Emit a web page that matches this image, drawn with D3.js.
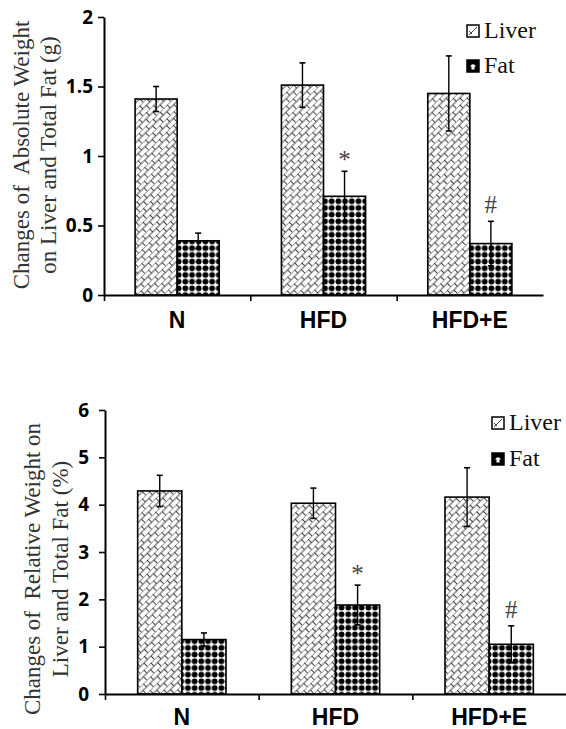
<!DOCTYPE html>
<html>
<head>
<meta charset="utf-8">
<script src="https://cdn.jsdelivr.net/npm/d3@7"></script>
<style>
  body { margin: 0; background: #fff; }
  svg { display: block; }
</style>
</head>
<body>
<div id="chart"></div>
<script>
// categories and series
const groups = ["N", "HFD", "HFD+E"];
const seriesNames = ["Liver", "Fat"];

// absolute weight (g)
const absLiver = [1.41, 1.51, 1.45];
const absLiverErr = [0.09, 0.16, 0.27];
const absFat = [0.39, 0.71, 0.37];
const absFatErr = [0.055, 0.18, 0.16];
const absTicks = [0, 0.5, 1, 1.5, 2];

// relative weight (%)
const relLiver = [4.29, 4.03, 4.16];
const relLiverErr = [0.33, 0.32, 0.62];
const relFat = [1.15, 1.88, 1.05];
const relFatErr = [0.14, 0.42, 0.39];
const relTicks = [0, 1, 2, 3, 4, 5, 6];

// significance marks on the fat bars
const fatMarks = ["", "*", "#"];

const W = 566, H = 729;
const svg = d3.select("#chart").append("svg")
    .attr("width", W)
    .attr("height", H);

// fill patterns
const defs = svg.append("defs");

// diagonal brick for liver
const brick = defs.append("pattern")
    .attr("id", "brick")
    .attr("patternUnits", "userSpaceOnUse")
    .attr("width", 10)
    .attr("height", 9.4)
    .attr("patternTransform", "rotate(-45)");
brick.append("rect").attr("width", 10).attr("height", 9.4).attr("fill", "#fff");
brick.append("path")
    .attr("d", "M0,0H10M0,4.7H10M0.5,0V4.7M5.5,4.7V9.4")
    .attr("stroke", "#333")
    .attr("stroke-width", 0.9)
    .attr("fill", "none");

// dot grid for fat
const dots = defs.append("pattern")
    .attr("id", "dots")
    .attr("patternUnits", "userSpaceOnUse")
    .attr("width", 6.7)
    .attr("height", 6.7);
dots.append("rect").attr("width", 6.7).attr("height", 6.7).attr("fill", "#fff");
dots.append("circle").attr("cx", 3.35).attr("cy", 3.35).attr("r", 2.9).attr("fill", "#000");

function drawChart(cfg) {
    const g = svg.append("g")
        .attr("transform", "translate(" + cfg.left + "," + cfg.top + ")");
    const w = cfg.width, h = cfg.height;

    const y = d3.scaleLinear().domain([0, d3.max(cfg.ticks)]).range([h, 0]);
    const x0 = d3.scaleBand().domain(groups).range([0, w])
        .paddingInner(0.425).paddingOuter(0.2125);
    const x1 = d3.scaleBand().domain(seriesNames).range([0, x0.bandwidth()]);

    const rows = groups.map((grp, i) => ({
        grp: grp,
        vals: [
            {name: "Liver", v: cfg.liver[i], e: cfg.liverErr[i], mark: ""},
            {name: "Fat", v: cfg.fat[i], e: cfg.fatErr[i], mark: fatMarks[i]}
        ]
    }));

    // bars
    const grpSel = g.selectAll(".grp").data(rows).enter().append("g")
        .attr("transform", d => "translate(" + x0(d.grp) + ",0)");

    grpSel.selectAll("rect").data(d => d.vals).enter().append("rect")
        .attr("x", d => x1(d.name))
        .attr("y", d => y(d.v))
        .attr("width", x1.bandwidth())
        .attr("height", d => h - y(d.v))
        .attr("fill", d => d.name === "Liver" ? "url(#brick)" : "url(#dots)")
        .attr("stroke", "#000")
        .attr("stroke-width", 1.6);

    // error bars
    const err = grpSel.selectAll(".err").data(d => d.vals).enter().append("g");
    err.append("line")
        .attr("x1", d => x1(d.name) + x1.bandwidth() / 2)
        .attr("x2", d => x1(d.name) + x1.bandwidth() / 2)
        .attr("y1", d => y(d.v + d.e))
        .attr("y2", d => y(d.v - d.e))
        .attr("stroke", "#000").attr("stroke-width", 1.4);
    err.selectAll(".cap").data(d => [
            {d: d, v: d.v + d.e},
            {d: d, v: d.v - d.e}
        ]).enter().append("line")
        .attr("x1", c => x1(c.d.name) + x1.bandwidth() / 2 - 3)
        .attr("x2", c => x1(c.d.name) + x1.bandwidth() / 2 + 3)
        .attr("y1", c => y(c.v))
        .attr("y2", c => y(c.v))
        .attr("stroke", "#000").attr("stroke-width", 1.6);

    // significance marks
    grpSel.selectAll(".mark").data(d => d.vals.filter(v => v.mark)).enter().append("text")
        .attr("x", d => x1(d.name) + x1.bandwidth() / 2)
        .attr("y", d => y(d.v + d.e) - (d.mark === "*" ? 3 : 8))
        .attr("text-anchor", "middle")
        .style("font-family", "'Liberation Serif', 'Times New Roman', serif")
        .style("font-size", "25px")
        .style("fill", "#444")
        .text(d => d.mark);

    // y axis
    const yAxis = g.append("g")
        .call(d3.axisLeft(y).tickValues(cfg.ticks).tickSize(6).tickSizeOuter(0).tickPadding(cfg.tickPad)
            .tickFormat(d => d));
    yAxis.select(".domain").attr("stroke-width", 2);
    yAxis.selectAll(".tick line").attr("stroke-width", 1.6);
    yAxis.selectAll("text")
        .style("font-family", "'Open Sans', sans-serif")
        .style("font-weight", "bold")
        .style("font-size", "19px")
        .style("fill", "#000");

    // x axis: ticks at category boundaries
    const xb = d3.scaleLinear().domain([0, groups.length]).range([0, w]);
    const xAxis = g.append("g")
        .attr("transform", "translate(0," + h + ")")
        .call(d3.axisBottom(xb).tickValues(d3.range(groups.length)).tickSize(6)
            .tickSizeOuter(0).tickFormat(""));
    xAxis.select(".domain").attr("stroke-width", 2);
    xAxis.selectAll(".tick line").attr("stroke-width", 1.6);

    // category labels
    g.append("g").selectAll("text").data(groups).enter().append("text")
        .attr("x", d => x0(d) + x0.bandwidth() / 2)
        .attr("y", h + cfg.labelGap)
        .attr("text-anchor", "middle")
        .style("font-family", "'Liberation Sans', Arial, sans-serif")
        .style("font-weight", "bold")
        .style("font-size", "23px")
        .text(d => d);

    // y title, two lines
    const title = svg.append("g")
        .attr("transform", "translate(" + cfg.titleX + "," + cfg.titleY + ") rotate(-90)");
    cfg.title.forEach((line, i) => {
        title.append("text")
            .attr("x", 0)
            .attr("y", i * cfg.titleGap)
            .attr("text-anchor", "middle")
            .style("font-family", "'Liberation Serif', 'Times New Roman', serif")
            .style("font-size", cfg.titleSize + "px")
            .style("fill", "#333")
            .style("white-space", "pre")
            .text(line);
    });

    // legend
    const leg = svg.append("g")
        .attr("transform", "translate(" + cfg.legX + "," + cfg.legY + ")");
    seriesNames.forEach((name, i) => {
        const row = leg.append("g").attr("transform", "translate(0," + i * cfg.legGap + ")");
        if (name === "Liver") {
            row.append("rect").attr("width", 12).attr("height", 12)
                .attr("fill", "#fff").attr("stroke", "#000").attr("stroke-width", 1.5);
            row.append("path").attr("d", "M2,10L10,2M2,6L5,9")
                .attr("stroke", "#444").attr("stroke-width", 1).attr("fill", "none");
        } else {
            row.append("rect").attr("width", 12).attr("height", 12)
                .attr("fill", "#000").attr("stroke", "#000").attr("stroke-width", 1.5);
            row.append("path").attr("d", "M3,6.5Q6,2 9,6.5L7.5,6.5L7.5,9.5L4.5,9.5L4.5,6.5Z")
                .attr("fill", "#fff");
        }
        row.append("text")
            .attr("x", 17)
            .attr("y", 13)
            .style("font-family", "'Liberation Serif', 'Times New Roman', serif")
            .style("font-size", "24px")
            .style("fill", "#111")
            .text(name);
    });
}

drawChart({
    left: 104, top: 17, width: 439, height: 278,
    liver: absLiver, liverErr: absLiverErr, fat: absFat, fatErr: absFatErr,
    ticks: absTicks, tickPad: 5, labelGap: 33,
    title: ["Changes of  Absolute Weight", "on Liver and Total Fat (g)"],
    titleX: 29, titleY: 155, titleGap: 27, titleSize: 23,
    legX: 467, legY: 25, legGap: 35
});

drawChart({
    left: 105, top: 410, width: 461, height: 284,
    liver: relLiver, liverErr: relLiverErr, fat: relFat, fatErr: relFatErr,
    ticks: relTicks, tickPad: 10, labelGap: 31,
    title: ["Changes of  Relative Weight on", "Liver and Total Fat (%)"],
    titleX: 40, titleY: 569, titleGap: 28, titleSize: 23,
    legX: 492, legY: 417, legGap: 36
});
</script>
</body>
</html>
